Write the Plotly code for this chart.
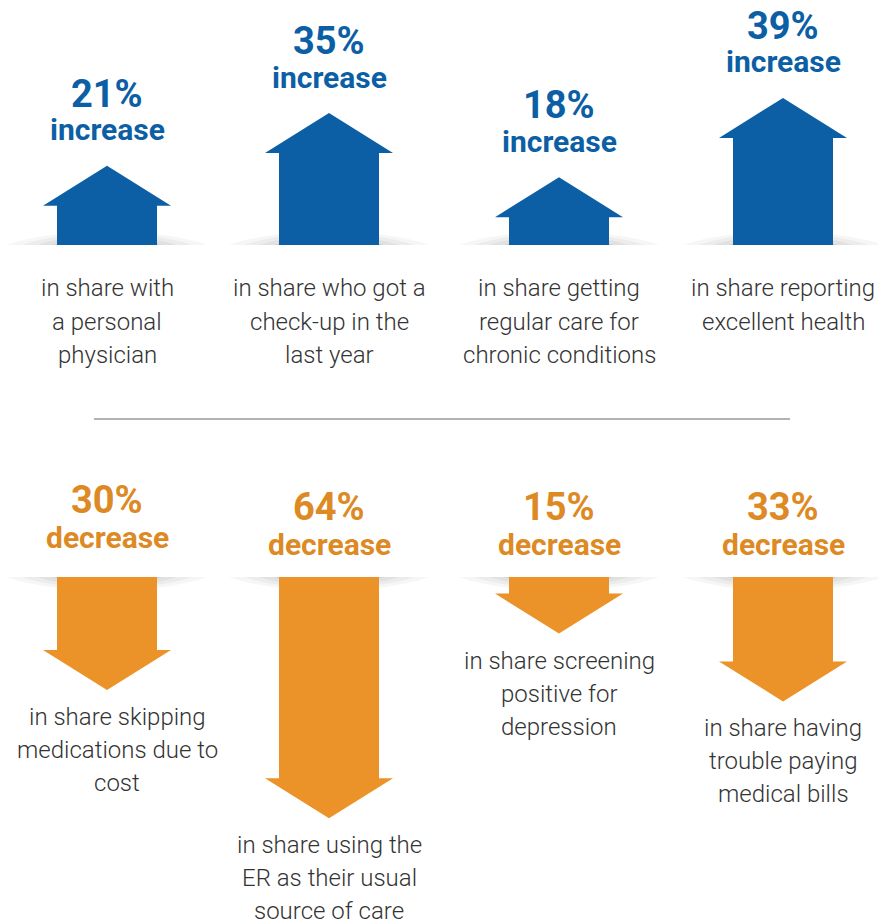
import plotly.graph_objects as go

# ---- data ----
up_values = [21, 35, 18, 39]
up_labels = ["21%", "35%", "18%", "39%"]
up_desc = [
    ["in share with", "a personal", "physician"],
    ["in share who got a", "check-up in the", "last year"],
    ["in share getting", "regular care for", "chronic conditions"],
    ["in share reporting", "excellent health"],
]
down_values = [30, 64, 15, 33]
down_labels = ["30%", "64%", "15%", "33%"]
down_desc = [
    ["in share skipping", "medications due to", "cost"],
    ["in share using the", "ER as their usual", "source of care"],
    ["in share screening", "positive for", "depression"],
    ["in share having", "trouble paying", "medical bills"],
]

# ---- layout constants ----
W, H = 878, 924
centers = [107, 329, 559, 783]
desc_dx = [10, 0, 0, 0]   # small horizontal nudge of bottom descriptions
K = 3.77            # px per percentage point
HEAD_H = 40
SHAFT_HW = 50
HEAD_HW = 64
TOP_BASE = 245
BOT_BASE = 577
BLUE = "#0C5FA4"
ORANGE = "#EB9228"
ORANGE_TXT = "#DD8A24"
TXT = "#333333"
FONT = "Roboto"

fig = go.Figure()
shapes = []
ann = []


def shadow(cx, base, direction):
    # soft grey shadow hugging the baseline
    for hw, h, op in [(100, 18, 0.05), (85, 15, 0.06), (70, 12, 0.07), (56, 8, 0.08)]:
        y1 = base - direction * h
        shapes.append(dict(type="path", layer="below", line=dict(width=0),
                           fillcolor=f"rgba(80,80,80,{op})",
                           path=f"M {cx-hw},{base} C {cx-hw*0.5},{y1} {cx+hw*0.5},{y1} {cx+hw},{base} Z"))


# top row: arrows pointing up
for cx, v, lab, desc in zip(centers, up_values, up_labels, up_desc):
    shadow(cx, TOP_BASE, 1)
    tip = TOP_BASE - v * K
    sh = tip + HEAD_H
    xs = [cx - SHAFT_HW, cx - SHAFT_HW, cx - HEAD_HW, cx, cx + HEAD_HW, cx + SHAFT_HW, cx + SHAFT_HW, cx - SHAFT_HW]
    ys = [TOP_BASE, sh, sh, tip, sh, sh, TOP_BASE, TOP_BASE]
    fig.add_trace(go.Scatter(x=xs, y=ys, fill="toself", fillcolor=BLUE, mode="lines",
                             line=dict(width=0, color=BLUE), hoverinfo="skip", showlegend=False))
    ann.append(dict(x=cx, y=tip - 72, text=f"<b>{lab}</b>", font=dict(family=FONT, size=38, color=BLUE)))
    ann.append(dict(x=cx, y=tip - 36, text="<b>increase</b>", font=dict(family=FONT, size=30, color=BLUE)))
    for j, line in enumerate(desc):
        ann.append(dict(x=cx, y=288 + j * 33.5, text=line,
                        font=dict(family=FONT, size=24, color=TXT, weight=300)))

# separator
shapes.append(dict(type="line", x0=94, x1=790, y0=419, y1=419, line=dict(color="#b3b3b3", width=2)))

# bottom row: arrows pointing down
label_y = [500, 507, 507, 507]
for cx, v, lab, desc, ly, dx in zip(centers, down_values, down_labels, down_desc, label_y, desc_dx):
    shadow(cx, BOT_BASE, -1)
    tip = BOT_BASE + v * K
    sh = tip - HEAD_H
    xs = [cx - SHAFT_HW, cx - SHAFT_HW, cx - HEAD_HW, cx, cx + HEAD_HW, cx + SHAFT_HW, cx + SHAFT_HW, cx - SHAFT_HW]
    ys = [BOT_BASE, sh, sh, tip, sh, sh, BOT_BASE, BOT_BASE]
    fig.add_trace(go.Scatter(x=xs, y=ys, fill="toself", fillcolor=ORANGE, mode="lines",
                             line=dict(width=0, color=ORANGE), hoverinfo="skip", showlegend=False))
    ann.append(dict(x=cx, y=ly, text=f"<b>{lab}</b>", font=dict(family=FONT, size=38, color=ORANGE_TXT)))
    ann.append(dict(x=cx, y=ly + 37, text="<b>decrease</b>", font=dict(family=FONT, size=30, color=ORANGE_TXT)))
    for j, line in enumerate(desc):
        ann.append(dict(x=cx + dx, y=tip + 27 + j * 33, text=line,
                        font=dict(family=FONT, size=24, color=TXT, weight=300)))

for a in ann:
    a.update(xref="x", yref="y", showarrow=False, xanchor="center", yanchor="middle")

fig.update_layout(
    width=W, height=H, margin=dict(l=0, r=0, t=0, b=0),
    paper_bgcolor="white", plot_bgcolor="white",
    xaxis=dict(range=[0, W], visible=False, fixedrange=True),
    yaxis=dict(range=[H, 0], visible=False, fixedrange=True),
    shapes=shapes, annotations=ann, showlegend=False,
)
fig.write_html("out.html")
